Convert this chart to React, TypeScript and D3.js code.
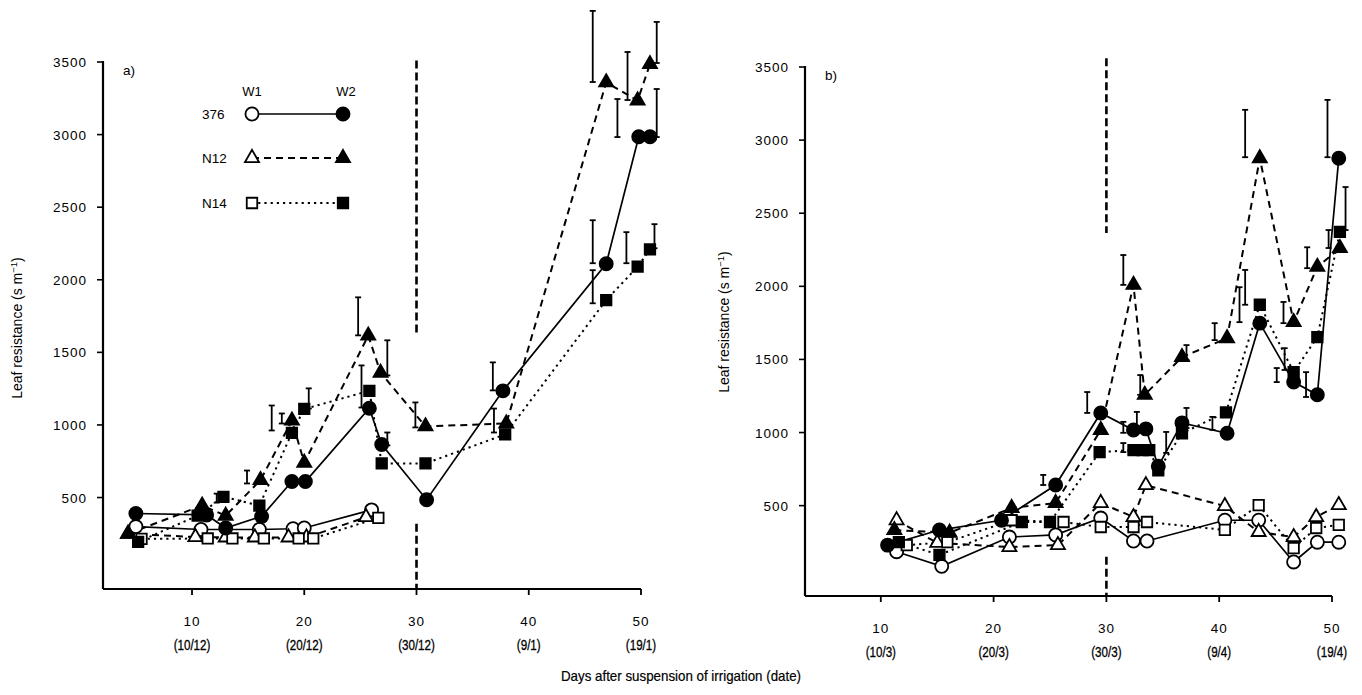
import React from "react";
import * as d3 from "d3";

// Axis ticks and date labels
const dayTicks = [10, 20, 30, 40, 50];
const datesA = ["(10/12)", "(20/12)", "(30/12)", "(9/1)", "(19/1)"];
const datesB = ["(10/3)", "(20/3)", "(30/3)", "(9/4)", "(19/4)"];
const resistanceTicks = [500, 1000, 1500, 2000, 2500, 3000, 3500];
const irrigationDay = 30;

// Panel a — [day, leaf resistance]
const a376W1: [number, number][] = [[5, 300], [10.8, 280], [16, 280], [19, 285], [20, 290], [26, 415]];
const aN12W1: [number, number][] = [[4.3, 250], [10.3, 228], [13, 225], [15.6, 225], [18.6, 225], [20.2, 225], [25.5, 365]];
const aN14W1: [number, number][] = [[5.5, 215], [11.4, 218], [13.6, 218], [16.4, 218], [19.5, 218], [20.8, 218], [26.6, 360]];
const a376W2: [number, number][] = [[5, 390], [11.3, 380], [13, 290], [16.2, 370], [18.9, 610], [20.1, 610], [25.8, 1115], [26.9, 865], [30.9, 485], [37.7, 1235], [46.9, 2110], [49.8, 2985], [50.8, 2985]];
const aN12W2: [number, number][] = [[4.3, 250], [10.9, 445], [13, 375], [16.1, 620], [18.9, 1030], [20, 740], [25.7, 1615], [26.8, 1360], [30.8, 990], [38, 1010], [46.9, 3360], [49.7, 3235], [50.8, 3485]];
const aN14W2: [number, number][] = [[5.2, 195], [10.5, 375], [12.8, 505], [16, 445], [18.9, 945], [20, 1110], [25.8, 1235], [26.9, 735], [30.8, 735], [37.9, 935], [46.9, 1860], [49.7, 2090], [50.8, 2210]];
const aErrorBars: [number, number, number][] = [
  [12.2, 465, 527], [14.9, 597, 686], [17.1, 962, 1134], [18, 1010, 1079], [20.4, 1113, 1252],
  [24.8, 1617, 1879], [25.1, 1120, 1410], [27.4, 1341, 1583], [27.4, 859, 948], [29.9, 983, 1155],
  [36.8, 1238, 1431], [36.9, 948, 1113], [45.7, 3362, 3852], [48.8, 3238, 3569], [51.4, 3493, 3776],
  [47.9, 2983, 3245], [51.4, 2983, 3314], [45.7, 2114, 2410], [48.7, 2114, 2328], [51.2, 2217, 2383],
  [45.7, 1838, 2066],
];
const aIrrigationSpans: [number, number][] = [[3510, 1630], [320, -130]];

// Panel b — [day, leaf resistance]
const b376W1: [number, number][] = [[11.4, 185], [15.4, 85], [21.4, 285], [25.5, 300], [29.5, 415], [32.4, 258], [33.6, 258], [40.5, 400], [43.5, 400], [46.6, 115], [48.7, 250], [50.6, 250]];
const bN12W1: [number, number][] = [[11.4, 400], [15, 245], [21.4, 217], [25.7, 230], [29.5, 518], [32.4, 422], [33.5, 640], [40.5, 497], [43.5, 320], [46.6, 285], [48.6, 422], [50.6, 504]];
const bN14W1: [number, number][] = [[12.3, 230], [15.9, 250], [21.6, 400], [26.2, 388], [29.5, 354], [32.4, 354], [33.6, 388], [40.5, 334], [43.5, 504], [46.6, 210], [48.6, 347], [50.6, 368]];
const b376W2: [number, number][] = [[10.6, 230], [15.2, 333], [20.7, 400], [25.5, 641], [29.5, 1134], [32.4, 1017], [33.5, 1025], [34.6, 770], [36.7, 1066], [40.7, 995], [43.6, 1748], [46.6, 1345], [48.7, 1258], [50.6, 2876]];
const bN12W2: [number, number][] = [[11.2, 333], [16.1, 315], [21.6, 484], [25.5, 518], [29.5, 1017], [32.4, 2010], [33.4, 1258], [36.7, 1516], [40.7, 1645], [43.6, 2876], [46.6, 1755], [48.7, 2133], [50.7, 2261]];
const bN14W2: [number, number][] = [[11.6, 250], [15.2, 163], [22.5, 388], [25, 388], [29.4, 866], [32.4, 880], [33.2, 880], [33.8, 880], [34.6, 742], [36.7, 995], [40.6, 1138], [43.6, 1874], [46.6, 1413], [48.7, 1653], [50.7, 2372]];
const bErrorBars: [number, number, number][] = [
  [24.4, 641, 710], [28.3, 1134, 1277], [31.5, 2010, 2214], [31.5, 998, 1073], [31.5, 866, 928],
  [32.7, 998, 1141], [33, 1258, 1393], [35.3, 861, 1004], [37.1, 1495, 1598], [37.1, 1031, 1168],
  [39.4, 1018, 1107], [39.6, 1632, 1748], [41.8, 1755, 1994], [42.3, 1874, 2112], [42.3, 2883, 3207],
  [45.1, 1345, 1441], [45.7, 1748, 1893], [45.8, 1428, 1577], [47.7, 1243, 1413], [47.8, 2124, 2267],
  [49.6, 2883, 3275], [49.7, 2262, 2385], [51.2, 2385, 2679],
];
const bIrrigationSpans: [number, number][] = [[3560, 2365], [150, -118]];

// Legend
const legendCultivars = ["376", "N12", "N14"];
const legendTreatments = ["W1", "W2"];

type Style = "solid" | "dashed" | "dotted";
type Shape = "circle" | "triangle" | "square";

const FONT = "'Liberation Sans', Arial, sans-serif";

const dashFor = (s: Style) => (s === "dashed" ? "7,5" : s === "dotted" ? "2.2,4" : undefined);
const widthFor = (s: Style) => (s === "solid" ? 1.7 : 2);

const symbolPath = (shape: Shape) => {
  const type = shape === "circle" ? d3.symbolCircle : shape === "triangle" ? d3.symbolTriangle : d3.symbolSquare;
  const size = shape === "circle" ? 135 : shape === "triangle" ? 85 : 110;
  return d3.symbol().type(type).size(size)() as string;
};

function Marker({ x, y, shape, filled }: { x: number; y: number; shape: Shape; filled: boolean }) {
  return (
    <path
      d={symbolPath(shape)}
      transform={`translate(${x},${y})`}
      fill={filled ? "#000" : "#fff"}
      stroke="#000"
      strokeWidth={1.8}
    />
  );
}

type Series = { data: [number, number][]; style: Style; shape: Shape; filled: boolean };

type PanelProps = {
  x0: number; x1: number; y0: number; y1: number;
  dayDomain: [number, number];
  resDomain: [number, number];
  dates: string[];
  series: Series[];
  bars: [number, number, number][];
  spans: [number, number][];
  tag: string;
  titleX: number; titleY: number;
};

function Panel(p: PanelProps) {
  const x = d3.scaleLinear().domain(p.dayDomain).range([p.x0, p.x1]);
  const y = d3.scaleLinear().domain(p.resDomain).range([p.y0, p.y1]);
  const line = d3.line<[number, number]>().x((d) => x(d[0])).y((d) => y(d[1]));
  const base = y(p.resDomain[0]);
  return (
    <g>
      {/* axes */}
      <line x1={p.x0} x2={p.x0} y1={y(3500) - 1} y2={base} stroke="#000" strokeWidth={2.2} />
      <line x1={p.x0} x2={x(50)} y1={base} y2={base} stroke="#000" strokeWidth={2.2} />
      {resistanceTicks.map((t) => (
        <g key={t}>
          <line x1={p.x0 - 6} x2={p.x0} y1={y(t)} y2={y(t)} stroke="#000" strokeWidth={1.6} />
          <text x={p.x0 - 16} y={y(t) + 5} textAnchor="end" fontFamily={FONT} fontSize={13.5} letterSpacing={1}>
            {t}
          </text>
        </g>
      ))}
      {dayTicks.map((t, i) => (
        <g key={t}>
          <line x1={x(t)} x2={x(t)} y1={base} y2={base + 6} stroke="#000" strokeWidth={1.8} />
          <text x={x(t)} y={base + 37} textAnchor="middle" fontFamily={FONT} fontSize={13.5} letterSpacing={1}>
            {t}
          </text>
          <text
            x={0} y={0}
            textAnchor="middle"
            fontFamily={FONT}
            fontSize={14.5}
            transform={`translate(${x(t)},${base + 61}) scale(0.8,1)`}
            stroke="#000" strokeWidth={0.3}
          >
            {p.dates[i]}
          </text>
        </g>
      ))}
      <text x={p.x0 + 20} y={y(3500) + 13} fontFamily={FONT} fontSize={13.5}>{p.tag}</text>
      <text
        transform={`translate(${p.titleX},${p.titleY}) rotate(-90)`}
        textAnchor="middle"
        fontFamily={FONT}
        fontSize={14}
      >
        Leaf resistance (s m<tspan dy={-5} fontSize={9.5}>−1</tspan><tspan dy={5}>)</tspan>
      </text>
      {/* end of irrigation */}
      {p.spans.map((s, i) => (
        <line key={i} x1={x(irrigationDay)} x2={x(irrigationDay)} y1={y(s[0])} y2={y(s[1])} stroke="#000" strokeWidth={2.6} strokeDasharray="8,4" />
      ))}
      {/* error bars */}
      {p.bars.map((b, i) => (
        <g key={i} stroke="#000" strokeWidth={1.8}>
          <line x1={x(b[0])} x2={x(b[0])} y1={y(b[1])} y2={y(b[2])} />
          <line x1={x(b[0]) - 3} x2={x(b[0]) + 3} y1={y(b[1])} y2={y(b[1])} />
          <line x1={x(b[0]) - 3} x2={x(b[0]) + 3} y1={y(b[2])} y2={y(b[2])} />
        </g>
      ))}
      {p.series.map((s, i) => (
        <path key={i} d={line(s.data) as string} fill="none" stroke="#000" strokeWidth={widthFor(s.style)} strokeDasharray={dashFor(s.style)} />
      ))}
      {p.series.map((s, i) => (
        <g key={i}>
          {s.data.map((d, j) => (
            <Marker key={j} x={x(d[0])} y={y(d[1])} shape={s.shape} filled={s.filled} />
          ))}
        </g>
      ))}
    </g>
  );
}

function Legend() {
  const rows: { style: Style; shape: Shape }[] = [
    { style: "solid", shape: "circle" },
    { style: "dashed", shape: "triangle" },
    { style: "dotted", shape: "square" },
  ];
  const rowY = [114, 158, 203];
  const xOpen = 252, xFilled = 343;
  return (
    <g>
      <text x={xOpen} y={96} textAnchor="middle" fontFamily={FONT} fontSize={13}>{legendTreatments[0]}</text>
      <text x={xFilled + 3} y={96} textAnchor="middle" fontFamily={FONT} fontSize={13}>{legendTreatments[1]}</text>
      {rows.map((r, i) => (
        <g key={i}>
          <text x={202} y={rowY[i] + 5} fontFamily={FONT} fontSize={13.5}>{legendCultivars[i]}</text>
          <line x1={xOpen} x2={xFilled} y1={rowY[i]} y2={rowY[i]} stroke="#000" strokeWidth={widthFor(r.style)} strokeDasharray={dashFor(r.style)} />
          <Marker x={xOpen} y={rowY[i]} shape={r.shape} filled={false} />
          <Marker x={xFilled} y={rowY[i]} shape={r.shape} filled={true} />
        </g>
      ))}
    </g>
  );
}

export default function App() {
  const seriesA: Series[] = [
    { data: a376W1, style: "solid", shape: "circle", filled: false },
    { data: aN12W1, style: "dashed", shape: "triangle", filled: false },
    { data: aN14W1, style: "dotted", shape: "square", filled: false },
    { data: a376W2, style: "solid", shape: "circle", filled: true },
    { data: aN12W2, style: "dashed", shape: "triangle", filled: true },
    { data: aN14W2, style: "dotted", shape: "square", filled: true },
  ];
  const seriesB: Series[] = [
    { data: b376W1, style: "solid", shape: "circle", filled: false },
    { data: bN12W1, style: "dashed", shape: "triangle", filled: false },
    { data: bN14W1, style: "dotted", shape: "square", filled: false },
    { data: b376W2, style: "solid", shape: "circle", filled: true },
    { data: bN12W2, style: "dashed", shape: "triangle", filled: true },
    { data: bN14W2, style: "dotted", shape: "square", filled: true },
  ];
  return (
    <svg width={1362} height={695} style={{ position: "absolute", left: 0, top: 0, background: "#fff" }}>
      <rect width={1362} height={695} fill="#fff" />
      <Panel
        x0={103} x1={641} y0={589} y1={62}
        dayDomain={[2.07, 50]} resDomain={[-130, 3500]}
        dates={datesA} series={seriesA} bars={aErrorBars} spans={aIrrigationSpans}
        tag="a)" titleX={22} titleY={328}
      />
      <Panel
        x0={805} x1={1332} y0={596} y1={67}
        dayDomain={[3.28, 50]} resDomain={[-118, 3500]}
        dates={datesB} series={seriesB} bars={bErrorBars} spans={bIrrigationSpans}
        tag="b)" titleX={729} titleY={322}
      />
      <Legend />
      <text x={681} y={681} textAnchor="middle" fontFamily={FONT} fontSize={14.5} transform="translate(681,0) scale(0.92,1) translate(-681,0)" stroke="#000" strokeWidth={0.2}>
        Days after suspension of irrigation (date)
      </text>
    </svg>
  );
}
